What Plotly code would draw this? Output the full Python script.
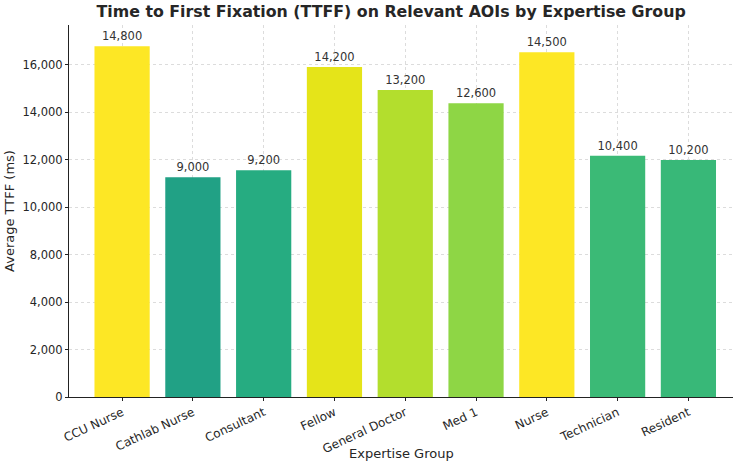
import plotly.graph_objects as go

groups = ["CCU Nurse", "Cathlab Nurse", "Consultant", "Fellow", "General Doctor",
          "Med 1", "Nurse", "Technician", "Resident"]
bar_heights = [14780, 9260, 9560, 13910, 12940, 12380, 14530, 10170, 9990]
label_values = [14800, 9000, 9200, 14200, 13200, 12600, 14500, 10400, 10200]
bar_colors = ["#FDE725", "#21A185", "#26AC81", "#E5E419", "#B3DE2D",
              "#8ED645", "#FDE725", "#3BBA76", "#38B878"]
tick_vals = [0, 2000, 4000, 6000, 8000, 10000, 12000, 14000]
tick_text = ["0", "2,000", "4,000", "8,000", "10,000", "12,000", "14,000", "16,000"]

font = "DejaVu Sans"

fig = go.Figure(go.Bar(
    x=groups, y=bar_heights, width=0.78,
    marker=dict(color=bar_colors, line=dict(width=0)),
    text=[f"{v:,}" for v in label_values], textposition="outside",
    textfont=dict(family=font, size=11.5, color="#333333"),
    cliponaxis=False,
))

fig.update_layout(
    width=738, height=473,
    margin=dict(l=69, r=5, t=25, b=76),
    paper_bgcolor="white", plot_bgcolor="white",
    showlegend=False,
    title=dict(text="<b>Time to First Fixation (TTFF) on Relevant AOIs by Expertise Group</b>",
               x=0.53, xanchor="center", y=0.975, yanchor="middle",
               font=dict(family=font, size=15.8, color="#262626")),
    font=dict(family=font, color="#262626"),
    annotations=[dict(text="Expertise Group", xref="paper", yref="paper",
                      x=0.5, y=-56 / 372, xanchor="center", yanchor="middle",
                      showarrow=False, font=dict(family=font, size=13, color="#262626"))],
)
fig.update_xaxes(
    range=[-0.75, 8.63], tickangle=-25,
    showgrid=True, gridcolor="#DCDCDC", griddash="3px,3px", gridwidth=1,
    showline=True, linecolor="#222222", linewidth=1,
    ticks="outside", ticklen=3, tickcolor="#222222",
    tickfont=dict(family=font, size=12, color="#262626"),
)
fig.update_yaxes(
    range=[0, 15680], tickvals=tick_vals, ticktext=tick_text,
    showgrid=True, gridcolor="#DCDCDC", griddash="3px,3px", gridwidth=1,
    showline=True, linecolor="#222222", linewidth=1,
    ticks="outside", ticklen=3, tickcolor="#222222", zeroline=False,
    tickfont=dict(family=font, size=11.5, color="#262626"),
    title=dict(text="Average TTFF (ms)", font=dict(family=font, size=13, color="#262626"), standoff=4),
)

fig.write_html("out.html")
